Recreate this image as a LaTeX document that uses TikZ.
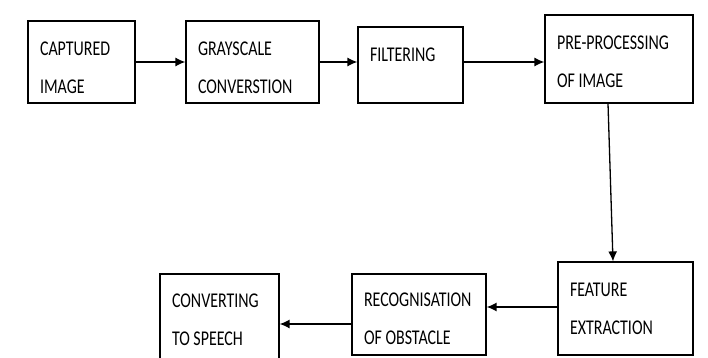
\documentclass[tikz,border=0pt]{standalone}
\usepackage{fontspec}
\setmainfont{Carlito}[FakeStretch=0.76]
\usetikzlibrary{arrows.meta}

\begin{document}
\begin{tikzpicture}[x=1pt, y=-1pt,
		box/.style={draw, line width=1.2pt, align=flush left, inner xsep=12pt, inner ysep=0pt,
			font=\fontsize{21pt}{38pt}\selectfont},
		tdown/.style={execute at begin node={\rule{0pt}{#1}}},
		arr/.style={-{Latex[length=10pt,width=9pt]}, line width=1.3pt}]

		\useasboundingbox (0, 0) rectangle (708, 358);

		\node[box, tdown=24.5pt, minimum width=107, minimum height=82, text width=83] (captured) at (81.5, 62) {CAPTURED\\IMAGE};
		\node[box, tdown=25.5pt, minimum width=133, minimum height=82, text width=109] (gray) at (252.5, 62) {GRAYSCALE\\CONVERSTION};
		\node[box, tdown=30.5pt, minimum width=105, minimum height=76, text width=81] (filter) at (410.5, 65) {FILTERING\\~};
		\node[box, tdown=18.5pt, minimum width=148, minimum height=88, text width=124] (preproc) at (619, 59) {PRE-PROCESSING\\OF IMAGE};

		\node[box, minimum width=135, minimum height=93, text width=111] (feature) at (625.5, 308.5) {FEATURE\\EXTRACTION};
		\node[box, tdown=22.5pt, minimum width=134, minimum height=81, text width=110] (recog) at (419, 314.5) {RECOGNISATION\\OF OBSTACLE};
		\node[box, tdown=16.5pt, minimum width=119, minimum height=88, text width=95] (speech) at (219.5, 318) {CONVERTING\\TO SPEECH};

		\draw[arr] (captured) -- (gray);
		\draw[arr] (gray.east) -- (gray.east -| filter.west);
		\draw[arr] (filter.east |- gray.east) -- (gray.east -| preproc.west);
		\draw[arr] ([xshift=-11]preproc.south) -- ([xshift=-12.5]feature.north);
		\draw[arr] ([yshift=1.5]feature.west) -- ([yshift=1.5]feature.west -| recog.east);
		\draw[arr] ([yshift=-9.5]recog.west) -- ([yshift=-9.5]recog.west -| speech.east);

	\end{tikzpicture}
\end{document}
